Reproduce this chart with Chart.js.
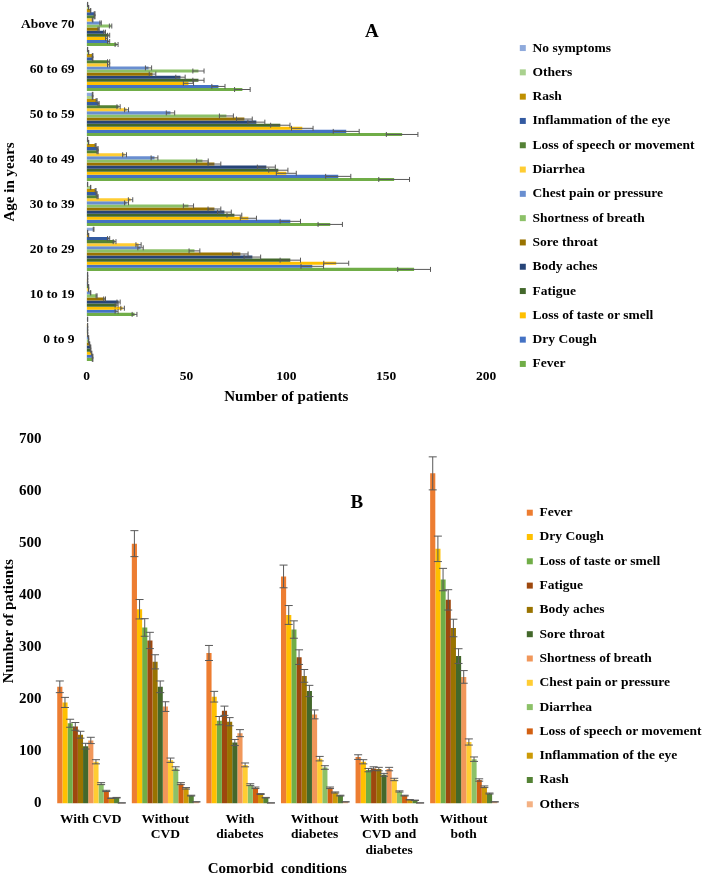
<!DOCTYPE html>
<html>
<head>
<meta charset="utf-8">
<script src="https://cdn.jsdelivr.net/npm/chart.js@4.4.1/dist/chart.umd.min.js"></script>
<style>
  body { margin: 0; background: #fff; }
  .panel { position: absolute; left: 0; width: 704px; }
  #boxA { top: 0; height: 410px; }
  #boxB { top: 418px; height: 461px; }
</style>
</head>
<body>
<div class="panel" id="boxA"><canvas id="graficoA"></canvas></div>
<div class="panel" id="boxB"><canvas id="graficoB"></canvas></div>
<script>
// Panel A: symptoms by age group
const ageGroups = ['0 to 9', '10 to 19', '20 to 29', '30 to 39', '40 to 49', '50 to 59', '60 to 69', 'Above 70'];
const feverA      = [3, 24, 164, 122, 154, 158, 78, 15];
const dryCoughA   = [3, 15, 113, 102, 126, 130, 66, 11];
const tasteA      = [2.5, 18, 125, 81, 100, 108, 51, 10];
const fatigueA    = [2, 15, 102, 74, 96, 97, 56, 11];
const bodyAchesA  = [2, 16, 83, 69, 90, 85, 47, 9];
const soreThroatA = [1.5, 9, 77, 64, 64, 79, 33, 6];
const breathA     = [1, 5, 54, 51, 58, 70, 56, 12];
const chestA      = [1, 2, 27, 20, 34, 42, 31, 7];
const diarrheaA   = [0.5, 1, 26, 22, 19, 20, 11, 3];
const speechA     = [0.5, 1, 14, 5.5, 5.5, 16, 11, 4];
const eyeA        = [0.5, 0.5, 11, 5, 5.5, 6, 3, 4];
const rashA       = [0.5, 0.5, 1, 4.5, 4.5, 5, 3, 2];
const othersA     = [0, 0.5, 0.5, 2, 1, 3, 1, 1];
const noSymptomsA = [0.5, 0.5, 3.5, 0.5, 0.5, 3, 0.5, 0.5];
const ticksA = [0, 50, 100, 150, 200];

// Panel B: symptoms by comorbid condition
const conditions = ['With CVD', ['Without', 'CVD'], ['With', 'diabetes'], ['Without', 'diabetes'], ['With both', 'CVD and', 'diabetes'], ['Without', 'both']];
const feverB      = [224, 499, 289, 436, 89, 634];
const dryCoughB   = [194, 373, 205, 362, 80, 489];
const tasteB      = [154, 338, 159, 334, 64, 430];
const fatigueB    = [148, 313, 178, 281, 67, 391];
const bodyAchesB  = [132, 272, 157, 245, 66, 337];
const soreThroatB = [110, 224, 117, 216, 55, 283];
const breathB     = [121, 186, 135, 171, 66, 243];
const chestB      = [80, 83, 74, 86, 46, 118];
const diarrheaB   = [38, 67, 36, 69, 23, 85];
const speechB     = [24, 38, 30, 30, 15, 45];
const eyeB        = [10, 29, 18, 21, 7, 32];
const rashB       = [11, 15, 11, 15, 6, 19];
const othersB     = [1, 3, 1, 3, 1, 3];

const fuente = 'Liberation Serif';
const negrita = (size, lh) => ({ family: fuente, size: size, weight: 'bold', lineHeight: lh || 1.2 });

// error bars (+/- 5 %) drawn on top of each bar
const barrasError = {
  id: 'barrasError',
  afterDatasetsDraw(chart, args, opts) {
    const ctx = chart.ctx;
    const horiz = chart.options.indexAxis === 'y';
    const escala = horiz ? chart.scales.x : chart.scales.y;
    ctx.save();
    ctx.strokeStyle = opts.color;
    ctx.lineWidth = opts.width;
    chart.data.datasets.forEach((ds, i) => {
      const meta = chart.getDatasetMeta(i);
      meta.data.forEach((bar, j) => {
        const v = ds.data[j];
        if (!v) return;
        const a = escala.getPixelForValue(v * (1 - opts.pct));
        const b = escala.getPixelForValue(v * (1 + opts.pct));
        const c = horiz ? bar.y : bar.x;
        const k = opts.cap;
        ctx.beginPath();
        if (horiz) {
          ctx.moveTo(a, c); ctx.lineTo(b, c);
          ctx.moveTo(a, c - k); ctx.lineTo(a, c + k);
          ctx.moveTo(b, c - k); ctx.lineTo(b, c + k);
        } else {
          ctx.moveTo(c, a); ctx.lineTo(c, b);
          ctx.moveTo(c - k, a); ctx.lineTo(c + k, a);
          ctx.moveTo(c - k, b); ctx.lineTo(c + k, b);
        }
        ctx.stroke();
      });
    });
    ctx.restore();
  }
};

// panel letter inside the plot area
const letraPanel = {
  id: 'letraPanel',
  afterDraw(chart, args, opts) {
    const area = chart.chartArea;
    const ctx = chart.ctx;
    ctx.save();
    ctx.font = 'bold 19px ' + fuente;
    ctx.fillStyle = '#000';
    ctx.textAlign = 'center';
    ctx.textBaseline = 'middle';
    ctx.fillText(opts.text, area.left + opts.fx * (area.right - area.left), area.top + opts.dy);
    ctx.restore();
  }
};

// leave a gap between plot and legend, like the Excel original
const ajusteLeyenda = {
  id: 'ajusteLeyenda',
  afterInit(chart, args, opts) {
    const lg = chart.legend;
    const fitOrig = lg.fit.bind(lg);
    lg.fit = function () { fitOrig(); this.width += opts.extra; };
  },
  afterLayout(chart, args, opts) {
    const lg = chart.legend;
    lg.left += opts.shift; lg.right += opts.shift;
    lg.top += opts.dy; lg.bottom += opts.dy;
  }
};

function serie(label, data, color) {
  return { label: label, data: data, backgroundColor: color, borderWidth: 0 };
}

new Chart(document.getElementById('graficoA').getContext('2d'), {
  type: 'bar',
  data: {
    labels: ageGroups,
    datasets: [
      serie('No symptoms', noSymptomsA, '#8FAADC'),
      serie('Others', othersA, '#A9D18E'),
      serie('Rash', rashA, '#BF9000'),
      serie('Inflammation of the eye', eyeA, '#335AA1'),
      serie('Loss of speech or movement', speechA, '#548235'),
      serie('Diarrhea', diarrheaA, '#FFCD33'),
      serie('Chest pain or pressure', chestA, '#698ED0'),
      serie('Shortness of breath', breathA, '#8CC168'),
      serie('Sore throat', soreThroatA, '#997300'),
      serie('Body aches', bodyAchesA, '#264478'),
      serie('Fatigue', fatigueA, '#43682B'),
      serie('Loss of taste or smell', tasteA, '#FFC000'),
      serie('Dry Cough', dryCoughA, '#4472C4'),
      serie('Fever', feverA, '#70AD47')
    ]
  },
  options: {
    indexAxis: 'y',
    responsive: true,
    maintainAspectRatio: false,
    animation: false,
    categoryPercentage: 0.96,
    barPercentage: 1.0,
    layout: { padding: { top: 2, right: 0, left: 0, bottom: 0 } },
    scales: {
      x: {
        min: 0, max: 200,
        afterBuildTicks: (s) => { s.ticks = ticksA.map(v => ({ value: v })); },
        grid: { display: false, drawTicks: false },
        border: { display: false },
        ticks: { color: '#000', font: negrita(13.5), padding: 7 },
        title: { display: true, text: 'Number of patients', color: '#000', font: negrita(15), padding: { top: -4, bottom: 4 } }
      },
      y: {
        reverse: true,
        afterFit: (s) => { s.paddingTop = 0; s.paddingBottom = 0; },
        grid: { display: false, drawTicks: false },
        border: { display: false },
        ticks: { color: '#000', font: negrita(13.5), padding: 12 },
        title: { display: true, text: 'Age in years', color: '#000', font: negrita(15), padding: { top: 1, bottom: -10 } }
      }
    },
    plugins: {
      legend: {
        position: 'right',
        labels: { boxWidth: 6, boxHeight: 6, padding: 10.8, color: '#000', font: negrita(13.5) }
      },
      tooltip: { enabled: false },
      barrasError: { pct: 0.05, cap: 2.5, color: '#595959', width: 1 },
      letraPanel: { text: 'A', fx: 0.714, dy: 30 },
      ajusteLeyenda: { extra: 42, shift: 23, dy: 0 }
    }
  },
  plugins: [barrasError, letraPanel, ajusteLeyenda]
});

new Chart(document.getElementById('graficoB').getContext('2d'), {
  type: 'bar',
  data: {
    labels: conditions,
    datasets: [
      serie('Fever', feverB, '#ED7D31'),
      serie('Dry Cough', dryCoughB, '#FFC000'),
      serie('Loss of taste or smell', tasteB, '#70AD47'),
      serie('Fatigue', fatigueB, '#9E480E'),
      serie('Body aches', bodyAchesB, '#997300'),
      serie('Sore throat', soreThroatB, '#43682B'),
      serie('Shortness of breath', breathB, '#F1975A'),
      serie('Chest pain or pressure', chestB, '#FFCD33'),
      serie('Diarrhea', diarrheaB, '#8CC168'),
      serie('Loss of speech or movement', speechB, '#D26012'),
      serie('Inflammation of the eye', eyeB, '#CC9A06'),
      serie('Rash', rashB, '#548235'),
      serie('Others', othersB, '#F4B183')
    ]
  },
  options: {
    responsive: true,
    maintainAspectRatio: false,
    animation: false,
    categoryPercentage: 0.9,
    barPercentage: 1.0,
    layout: { padding: { top: 2, right: 0, left: 0, bottom: 0 } },
    scales: {
      x: {
        grid: { display: false, drawTicks: false },
        border: { display: false },
        ticks: { color: '#000', font: negrita(13.5, 1.15), padding: 8, maxRotation: 0, autoSkip: false },
        title: { display: true, text: 'Comorbid  conditions', color: '#000', font: negrita(15), padding: { top: -6, bottom: 1 } }
      },
      y: {
        min: 0, max: 700,
        grid: { display: false, drawTicks: false },
        border: { display: false },
        ticks: { color: '#000', font: negrita(15), stepSize: 100, padding: 12 },
        title: { display: true, text: 'Number of patients', color: '#000', font: negrita(15), padding: { top: 0, bottom: -11 } }
      }
    },
    plugins: {
      legend: {
        position: 'right',
        labels: { boxWidth: 6, boxHeight: 6, padding: 10.8, color: '#000', font: negrita(13.5) }
      },
      tooltip: { enabled: false },
      barrasError: { pct: 0.05, cap: 4, color: '#595959', width: 1 },
      letraPanel: { text: 'B', fx: 0.678, dy: 64 },
      ajusteLeyenda: { extra: 27, shift: 15, dy: 9 }
    }
  },
  plugins: [barrasError, letraPanel, ajusteLeyenda]
});
</script>
</body>
</html>
